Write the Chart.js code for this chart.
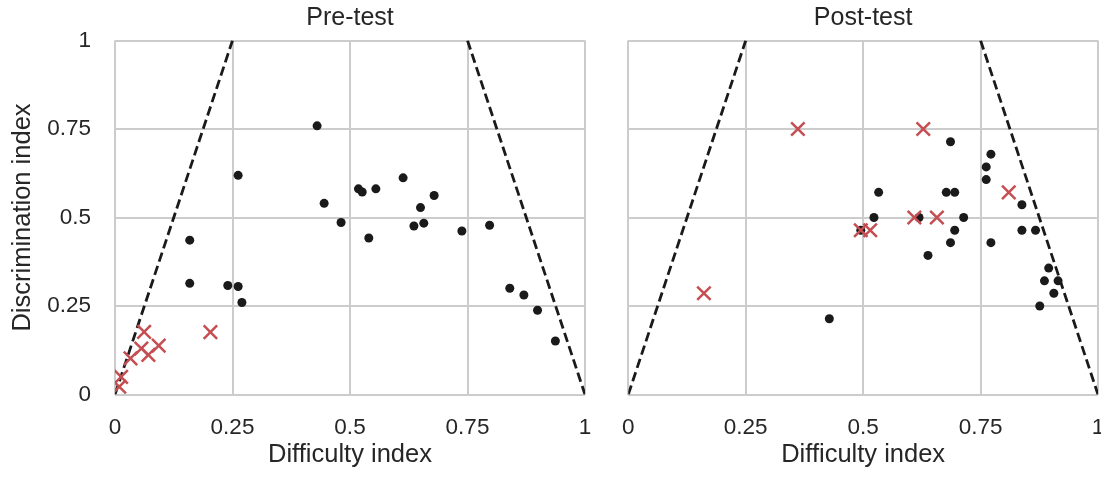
<!DOCTYPE html>
<html>
<head>
<meta charset="utf-8">
<script src="https://cdn.jsdelivr.net/npm/chart.js@4.4.1/dist/chart.umd.min.js"></script>
<style>
  html, body { margin: 0; padding: 0; background: #fff; overflow: hidden; }
  #wrap { position: relative; width: 1101px; height: 477px; }
  #preBox { position: absolute; left: 0; top: 0; width: 600px; height: 477px; }
  #postBox { position: absolute; left: 600px; top: 0; width: 510px; height: 477px; }
</style>
</head>
<body>
<div id="wrap">
  <div id="preBox"><canvas id="preChart"></canvas></div>
  <div id="postBox"><canvas id="postChart"></canvas></div>
</div>
<script>
// tick labels shared by both panels
const tickLabels = ['0', '0.25', '0.5', '0.75', '1'];

// Pre-test: difficulty (x) / discrimination (y)
const preDotDiff = [0.430, 0.262, 0.445, 0.481, 0.159, 0.159, 0.240, 0.262, 0.270, 0.518, 0.526, 0.555,
                    0.613, 0.679, 0.650, 0.636, 0.657, 0.540, 0.738, 0.797, 0.840, 0.870, 0.899, 0.937];
const preDotDisc = [0.759, 0.619, 0.540, 0.486, 0.436, 0.314, 0.308, 0.305, 0.260, 0.581, 0.572, 0.581,
                    0.612, 0.562, 0.528, 0.476, 0.484, 0.442, 0.462, 0.478, 0.300, 0.281, 0.238, 0.151];
const preCrossDiff = [0.062, 0.203, 0.056, 0.093, 0.071, 0.033, 0.013, 0.009];
const preCrossDisc = [0.177, 0.176, 0.130, 0.138, 0.112, 0.102, 0.050, 0.022];

// Post-test
const postDotDiff = [0.428, 0.686, 0.772, 0.762, 0.762, 0.533, 0.677, 0.695, 0.838, 0.523, 0.619, 0.714,
                     0.495, 0.695, 0.838, 0.867, 0.686, 0.772, 0.638, 0.895, 0.886, 0.915, 0.906, 0.876];
const postDotDisc = [0.214, 0.714, 0.679, 0.643, 0.607, 0.571, 0.571, 0.571, 0.536, 0.500, 0.500, 0.500,
                     0.464, 0.464, 0.464, 0.464, 0.429, 0.429, 0.393, 0.357, 0.321, 0.321, 0.286, 0.250];
const postCrossDiff = [0.361, 0.161, 0.628, 0.810, 0.609, 0.657, 0.495, 0.515];
const postCrossDisc = [0.750, 0.286, 0.750, 0.571, 0.500, 0.500, 0.464, 0.464];

// dashed boundary lines
const leftBoundX = [0, 0.25];
const leftBoundY = [0, 1];
const rightBoundX = [0.75, 1];
const rightBoundY = [1, 0];

const FONT = "'Liberation Sans', Arial, sans-serif";
const TEXT = '#262626';
const GRID = '#cccccc';

function pts(xs, ys) {
  return xs.map((x, i) => ({ x: x, y: ys[i] }));
}

function makeDatasets(dotX, dotY, crossX, crossY) {
  return [
    {
      data: pts(crossX, crossY),
      pointStyle: 'crossRot',
      pointRadius: 9.5,
      borderColor: '#c44e52',
      backgroundColor: '#c44e52',
      pointBorderWidth: 2.5
    },
    {
      data: pts(dotX, dotY),
      pointStyle: 'circle',
      pointRadius: 4.5,
      borderWidth: 0,
      backgroundColor: '#1a1a1a',
      borderColor: '#1a1a1a'
    },
    {
      data: pts(leftBoundX, leftBoundY),
      showLine: true,
      pointRadius: 0,
      borderColor: '#1a1a1a',
      borderWidth: 2.8,
      borderDash: [9.5, 4.5]
    },
    {
      data: pts(rightBoundX, rightBoundY),
      showLine: true,
      pointRadius: 0,
      borderColor: '#1a1a1a',
      borderWidth: 2.8,
      borderDash: [9.5, 4.5]
    }
  ];
}

function makeOptions(title, showY, yWidth, rightPad) {
  return {
    responsive: false,
    animation: false,
    layout: { padding: { left: 0, right: rightPad, top: 0, bottom: 0 } },
    plugins: {
      legend: { display: false },
      tooltip: { enabled: false },
      title: {
        display: true,
        text: title,
        fullSize: false,
        color: TEXT,
        font: { family: FONT, size: 25, weight: 'normal' },
        padding: { top: 3.5, bottom: 7 }
      }
    },
    scales: {
      x: {
        type: 'linear',
        min: 0,
        max: 1,
        afterFit: function(scale) {
          scale.height = 82.5;
          scale.paddingLeft = 0;
          scale.paddingRight = 0;
        },
        ticks: {
          stepSize: 0.25,
          color: TEXT,
          padding: 20,
          font: { family: FONT, size: 22.5 },
          callback: (v, i) => tickLabels[i]
        },
        grid: { color: GRID, lineWidth: 2, drawTicks: false },
        border: { display: false },
        title: {
          display: true,
          text: 'Difficulty index',
          color: TEXT,
          font: { family: FONT, size: 25.5 },
          padding: { top: 0, bottom: 6.7 }
        }
      },
      y: {
        type: 'linear',
        min: 0,
        max: 1,
        afterFit: function(scale) {
          scale.width = yWidth;
          scale.paddingTop = 0;
          scale.paddingBottom = 0;
        },
        ticks: {
          display: showY,
          stepSize: 0.25,
          color: TEXT,
          padding: 24,
          font: { family: FONT, size: 22.5 },
          callback: (v, i) => tickLabels[i]
        },
        grid: { color: GRID, lineWidth: 2, drawTicks: false },
        border: { display: false },
        title: {
          display: showY,
          text: 'Discrimination index',
          color: TEXT,
          font: { family: FONT, size: 25.5 },
          padding: { top: 8, bottom: 0 }
        }
      }
    }
  };
}

function setup(id, w) {
  const c = document.getElementById(id);
  c.width = w;
  c.height = 477;
  c.style.width = w + 'px';
  c.style.height = '477px';
  return c.getContext('2d');
}

new Chart(setup('preChart', 600), {
  type: 'scatter',
  data: { datasets: makeDatasets(preDotDiff, preDotDisc, preCrossDiff, preCrossDisc) },
  options: makeOptions('Pre-test', true, 115, 15)
});

new Chart(setup('postChart', 510), {
  type: 'scatter',
  data: { datasets: makeDatasets(postDotDiff, postDotDisc, postCrossDiff, postCrossDisc) },
  options: makeOptions('Post-test', false, 28.3, 10.5)
});
</script>
</body>
</html>
